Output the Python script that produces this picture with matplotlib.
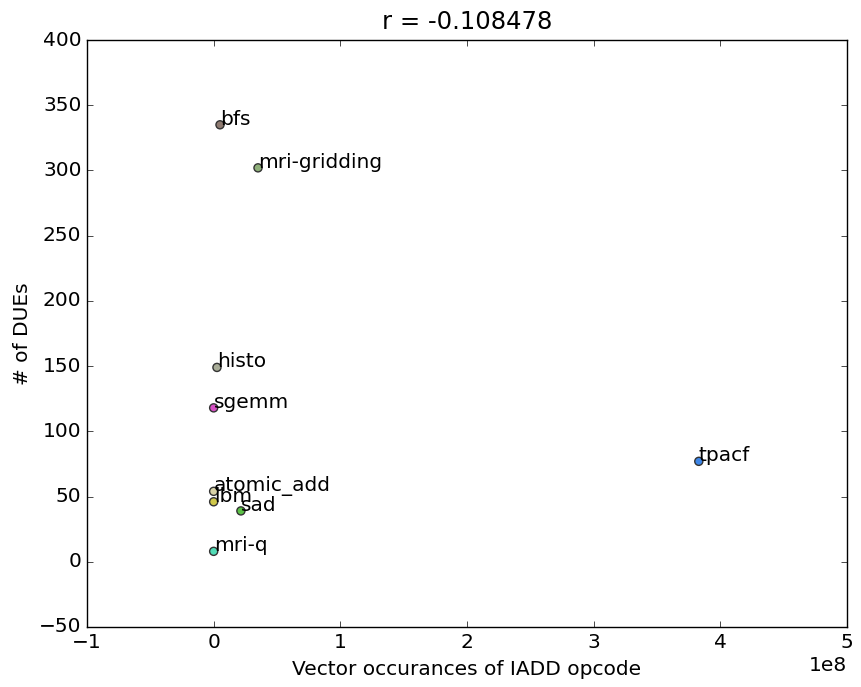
import matplotlib
matplotlib.use("Agg")
from matplotlib import pyplot as plt
import numpy as np

plt.style.use('classic')
plt.rcParams['font.family'] = ['DejaVu Sans']
plt.rcParams['font.size'] = 14.5

# benchmark data
names = ['bfs', 'mri-gridding', 'histo', 'sgemm', 'atomic_add', 'lbm', 'sad', 'mri-q', 'tpacf']
iadd = [5.0e6, 3.5e7, 2.6e6, 0.0, 0.0, 0.0, 2.15e7, 0.0, 3.83e8]
dues = [335, 302, 149, 118, 54, 46, 39, 8, 77]
colors = ['#8e7a70', '#8fb07a', '#a9ad98', '#d54fc4', '#d9d3a8', '#d0c84a',
          '#5cc247', '#52dcb6', '#3d86e8']
r = -0.108478

fig = plt.figure(figsize=(8.61, 6.87), dpi=100)
ax = fig.add_axes([87/861, 1 - 627/687, 760/861, 587/687])

ax.scatter(iadd, dues, c=colors, s=34, edgecolors='#333333', linewidths=1, zorder=3)
for n, x, y in zip(names, iadd, dues):
    ax.text(x, y, n, fontsize=14.5)

ax.set_xlim(-1e8, 5e8)
ax.set_ylim(-50, 400)
ax.set_title('r = %f' % r, fontsize=17.5, pad=8)
ax.set_xlabel('Vector occurances of IADD opcode', fontsize=14.5, labelpad=6)
ax.set_ylabel('# of DUEs', fontsize=14.5)
ax.tick_params(labelsize=14.5)

fig.savefig('out.png', dpi=100)
